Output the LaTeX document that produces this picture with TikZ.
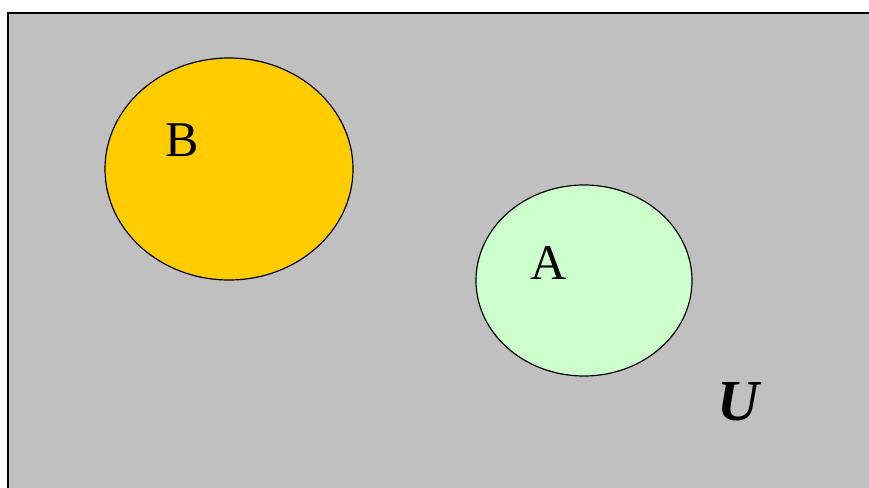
\documentclass[tikz,border=0pt]{standalone}
\usepackage{fontspec}
\setmainfont{Liberation Serif}
\definecolor{ugray}{HTML}{C0C0C0}
\definecolor{bfill}{HTML}{FFCC00}
\definecolor{afill}{HTML}{CCFFCC}
\begin{document}
\begin{tikzpicture}[x=1pt,y=-1pt,
  setshape/.style={draw=black,line width=1.2pt},
  setlabel/.style={font=\fontsize{50}{50}\selectfont,inner sep=0pt}]
\useasboundingbox (0,0) rectangle (869,487);
\fill[white] (0,0) rectangle (869,487);
\begin{scope}
\clip (0,0) rectangle (869,487);
\draw[fill=ugray,line width=2pt] (8,13) rectangle (890,510);
\end{scope}
\draw[setshape,fill=bfill] (229,169) ellipse [x radius=124,y radius=111];
\draw[setshape,fill=afill] (584,280.5) ellipse [x radius=108,y radius=95.5];
\node[setlabel] (B) at (182,140) {B};
\node[setlabel] (A) at (549,263) {A};
\node[setlabel,font=\fontsize{58}{58}\selectfont\bfseries\itshape] (U) at (738,402) {U};
\end{tikzpicture}
\end{document}
